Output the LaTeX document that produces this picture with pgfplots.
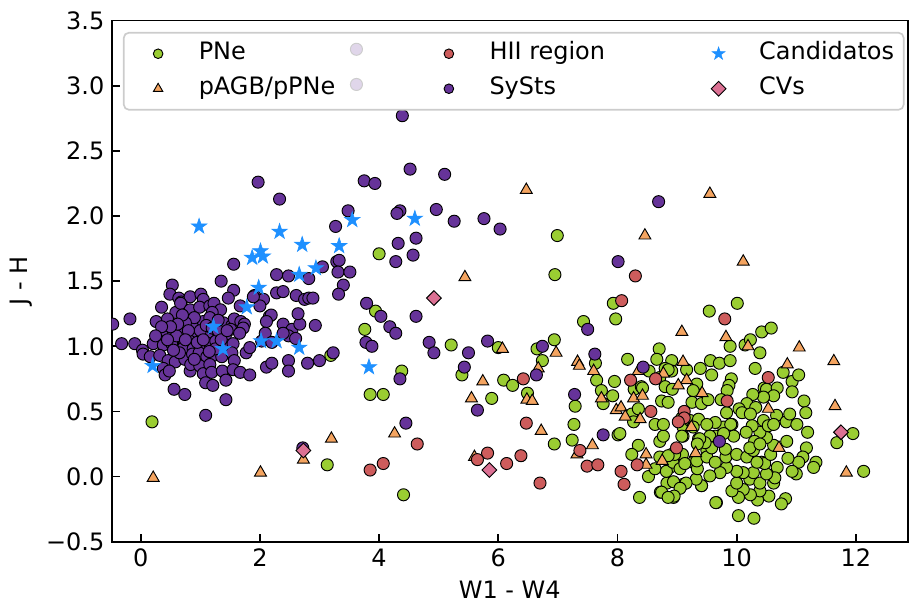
\documentclass[border=0pt]{standalone}
\usepackage{fontspec}
\setmainfont{DejaVu Sans}
\usepackage{pgfplots}
\pgfplotsset{compat=1.18}
\definecolor{cPN}{RGB}{154,205,50}
\definecolor{cAGB}{RGB}{244,164,96}
\definecolor{cHII}{RGB}{205,92,92}
\definecolor{cSy}{RGB}{102,51,153}
\definecolor{cCand}{RGB}{30,144,255}
\definecolor{cCV}{RGB}{219,112,147}
\pgfdeclareplotmark{fstar}{%
 \pgfpathmoveto{\pgfpointpolar{90}{\pgfplotmarksize}}%
 \pgfpathlineto{\pgfpointpolar{126}{0.382\pgfplotmarksize}}%
 \pgfpathlineto{\pgfpointpolar{162}{\pgfplotmarksize}}%
 \pgfpathlineto{\pgfpointpolar{198}{0.382\pgfplotmarksize}}%
 \pgfpathlineto{\pgfpointpolar{234}{\pgfplotmarksize}}%
 \pgfpathlineto{\pgfpointpolar{270}{0.382\pgfplotmarksize}}%
 \pgfpathlineto{\pgfpointpolar{306}{\pgfplotmarksize}}%
 \pgfpathlineto{\pgfpointpolar{342}{0.382\pgfplotmarksize}}%
 \pgfpathlineto{\pgfpointpolar{18}{\pgfplotmarksize}}%
 \pgfpathlineto{\pgfpointpolar{54}{0.382\pgfplotmarksize}}%
 \pgfpathclose
 \pgfusepathqfillstroke}
\pgfplotsset{
  sPN/.style={only marks, mark=*, mark size=2.9pt, mark options={fill=cPN, draw=black, line width=0.45pt, fill opacity=1, sharp corners}},
  sAGB/.style={only marks, mark=triangle*, mark size=3.3pt, mark options={fill=cAGB, draw=black, line width=0.45pt, fill opacity=1, sharp corners}},
  sHII/.style={only marks, mark=*, mark size=2.9pt, mark options={fill=cHII, draw=black, line width=0.45pt, fill opacity=1, sharp corners}},
  sSy/.style={only marks, mark=*, mark size=2.9pt, mark options={fill=cSy, draw=black, line width=0.45pt, fill opacity=1, sharp corners}},
  sCand/.style={only marks, mark=fstar, mark size=3.9pt, mark options={fill=cCand, draw=cCand, line width=0.3pt, fill opacity=1, sharp corners}},
  sCV/.style={only marks, mark=square*, mark size=2.5pt, mark options={rotate=45, fill=cCV, draw=black, line width=0.45pt, fill opacity=1, sharp corners}},
}
\begin{document}
\begin{tikzpicture}[font=\fontsize{11.5}{13.8}\selectfont]
\begin{axis}[
  name=ax,
  scale only axis, width=382.2pt, height=250.1pt,
  xmin=-0.487, xmax=12.874, ymin=-0.5, ymax=3.5,
  clip marker paths=true,
  xtick={0,2,4,6,8,10,12},
  ytick={-0.5,0,0.5,1,1.5,2,2.5,3,3.5},
  yticklabels={−0.5,0.0,0.5,1.0,1.5,2.0,2.5,3.0,3.5},
  /pgf/number format/assume math mode=true,
  tick align=inside, tick pos=left, major tick length=3.8pt,
  axis line style={line width=0.8pt},
  every tick/.style={line width=0.8pt, black},
  xlabel={W1 - W4}, ylabel={J - H},
  legend columns=3,
  legend cell align=left,
  legend image code/.code={\path (0pt,-2pt) (23pt,2pt); \draw[#1] plot[only marks] coordinates {(11.5pt,0pt)};},
  legend style={at={(0,1)}, anchor=north west, xshift=5.4pt, yshift=-5.4pt,
    draw=black!20, line width=0.8pt, rounded corners=2.5pt,
    fill=white, fill opacity=0.8, draw opacity=1, text opacity=1,
    inner xsep=4.6pt, inner ysep=4.7pt,
    column sep=7.6pt, row sep=6pt,
    nodes={inner sep=0pt, text height=8.4pt, text depth=2.4pt},
    /tikz/every even column/.append style={column sep=42.6pt}},
]
% PNe
\addplot[sPN, forget plot] coordinates {
(4.00,1.71) (6.99,1.85) (6.95,1.55) (3.94,1.27) (3.76,1.13) (3.19,0.93) (4.38,0.81) (3.85,0.63) (4.07,0.63) (0.19,0.42) (3.13,0.09) (4.41,-0.14)
(5.21,1.01) (5.39,0.78) (6.00,0.99) (5.89,0.60) (6.09,0.74) (6.24,0.70) (6.49,0.64) (6.65,0.98) (6.94,1.05) (6.74,0.89) (6.94,0.25)
(7.43,1.19) (7.93,1.33) (7.97,1.21) (7.63,0.87) (7.29,0.54) (7.27,0.40) (7.24,0.28) (7.65,0.74) (7.73,0.66) (7.92,0.62) (7.95,0.73) (7.76,0.56)
(8.17,0.90) (8.01,0.32) (8.04,0.33) (8.35,0.24) (8.24,0.17) (8.37,-0.16) (8.52,0.00) (8.63,0.06) (8.72,-0.12) (8.63,0.40) (8.74,0.58) (8.70,0.98)
(8.28,0.67) (8.40,0.69) (8.24,0.48) (8.35,0.52) (8.27,0.42) (8.66,0.90) (8.53,0.81) (8.42,0.68)
(8.91,0.89) (8.80,0.83) (8.91,0.81) (8.71,0.76) (8.80,0.69) (8.92,0.67) (8.85,0.57) (9.16,0.82) (9.39,0.83) (9.33,0.71) (9.27,0.66) (9.25,0.57)
(9.41,0.56) (9.58,0.78) (9.08,0.45) (9.10,0.31) (9.09,0.17) (8.71,0.15) (8.71,0.27) (8.91,0.17) (8.88,0.07) (8.83,-0.05) (8.94,-0.16) (8.74,-0.12)
(9.10,-0.06) (9.41,-0.07) (9.66,-0.20) (9.10,0.38) (9.22,0.43) (9.36,0.29) (9.50,0.20) (9.64,0.31) (9.27,0.11) (9.78,0.38) (9.92,0.40)
(9.54,1.27) (10.01,1.33) (10.42,1.11) (10.58,1.14) (10.14,1.01) (10.23,1.05) (9.89,1.00) (10.39,0.95) (9.56,0.89) (9.71,0.87) (9.89,0.89)
(8.85,0.82) (10.31,0.83) (10.78,0.80) (10.93,0.73) (11.04,0.78) (10.93,0.65) (9.91,0.75) (9.87,0.70) (9.84,0.66) (9.52,0.59) (9.74,0.59) (9.83,0.49)
(10.46,0.68) (10.50,0.67) (10.68,0.68) (10.62,0.62) (10.45,0.61) (10.27,0.63) (10.17,0.56) (10.32,0.53) (10.04,0.52) (10.09,0.49) (10.23,0.48)
(11.13,0.58) (11.16,0.49) (10.67,0.47) (10.83,0.42) (10.89,0.48) (11.01,0.40) (11.19,0.34) (11.17,0.22) (11.11,0.15) (11.04,0.11) (11.33,0.11)
(11.29,0.07) (11.00,0.02) (10.93,0.04) (10.84,0.27) (10.86,0.14) (10.68,0.07) (10.62,-0.05) (10.64,-0.01) (10.82,-0.17) (10.75,-0.21) (10.54,-0.15)
(10.35,-0.18) (10.39,-0.11) (10.23,-0.14) (10.11,-0.10) (10.03,-0.16) (9.92,-0.11) (10.00,-0.05) (10.03,-0.30) (10.29,-0.32) (9.65,-0.20)
(10.22,-0.02) (10.39,-0.05) (10.50,0.02) (10.28,0.03) (10.11,0.03) (10.00,0.04) (9.83,0.07) (9.72,0.03) (9.55,0.005) (9.41,-0.07) (9.32,-0.02)
(9.15,-0.05) (8.94,-0.04) (9.05,-0.09) (8.95,-0.15) (8.85,-0.16) (8.82,0.04) (8.93,0.11) (9.05,0.06) (9.13,0.10) (9.34,0.06) (9.33,0.12)
(9.50,0.15) (9.64,0.11) (9.82,0.15) (10.00,0.17) (10.17,0.15) (10.28,0.20) (10.42,0.11) (10.47,0.10) (10.34,0.11) (10.57,0.17) (10.62,0.24)
(10.50,0.30) (10.39,0.34) (10.45,0.43) (10.53,0.39) (10.62,0.40) (10.26,0.39) (10.16,0.34) (10.30,0.27) (10.22,0.22) (10.39,0.25) (9.90,0.40)
(9.95,0.31) (9.78,0.33) (9.81,0.21) (9.64,0.415) (9.55,0.31) (9.58,0.22) (9.47,0.26) (9.38,0.29) (9.34,0.25) (9.36,0.44) (9.50,0.40) (9.27,0.38)
(9.08,0.31) (8.96,0.17) (8.85,0.16) (8.77,0.31) (8.77,0.40) (11.68,0.26) (11.95,0.33) (12.13,0.04)
};
% pAGB/pPNe
\addplot[sAGB, forget plot] coordinates {
(6.47,2.20) (8.46,1.85) (5.44,1.53) (9.55,2.17) (10.11,1.65) (0.21,-0.01) (2.01,0.03) (3.20,0.29) (2.73,0.13) (4.26,0.33)
(6.07,0.98) (6.97,0.95) (7.33,0.88) (7.36,0.85) (7.60,0.81) (6.67,0.83) (5.74,0.73) (5.55,0.60) (6.48,0.59) (6.57,0.58) (6.72,0.35)
(7.73,0.60) (7.98,0.51) (8.06,0.53) (8.13,0.46) (8.38,0.44) (8.27,0.60) (8.42,0.62) (8.35,0.81) (7.58,0.24) (7.32,0.17) (5.60,0.15)
(8.48,0.17) (8.48,0.09) (8.75,0.12) (8.77,0.79) (9.08,1.11) (9.82,1.07) (10.19,1.00) (11.05,0.99) (10.85,0.86) (11.63,0.885) (9.10,0.88)
(9.16,0.74) (9.02,0.70) (9.42,0.64) (10.53,0.52) (11.65,0.54) (9.24,0.38) (9.31,0.18) (10.71,0.22) (11.84,0.03)
};
% HII regions
\addplot[sHII, forget plot] coordinates {
(8.30,1.54) (3.85,0.05) (4.07,0.10) (4.64,0.25) (6.42,0.75) (8.07,1.35) (6.47,0.41) (5.82,0.18) (5.65,0.13) (6.14,0.10) (6.38,0.16)
(6.70,-0.05) (7.37,0.20) (7.49,0.08) (7.67,0.09) (8.22,0.74) (8.64,0.75) (8.56,0.50) (8.33,0.09) (8.06,0.04) (8.11,-0.06) (9.80,1.21)
(10.53,0.76) (9.84,0.58) (9.12,0.50) (9.12,0.45) (9.02,0.42) (8.99,0.22)
};
% SySts
\addplot[sSy, forget plot] coordinates {
(3.62,3.28) (3.62,3.01) (4.39,2.77) (1.97,2.26) (2.33,2.13) (3.75,2.27) (3.93,2.25) (4.52,2.36) (5.10,2.32) (8.69,2.11) (3.48,2.04) (3.27,1.92)
(4.35,2.04) (4.30,2.02) (4.96,2.05) (5.26,1.96) (5.76,1.98) (6.03,1.90) (4.62,1.83) (4.32,1.79) (4.57,1.70) (4.28,1.65) (8.01,1.65) (1.56,1.63)
(2.28,1.55) (2.48,1.54) (2.82,1.52) (3.05,1.61) (3.29,1.65) (3.33,1.66) (3.31,1.57) (3.51,1.57) (0.53,1.47) (1.35,1.50) (3.40,1.47)
(3.32,1.40) (2.28,1.41) (2.39,1.42) (2.61,1.39) (2.75,1.36) (2.82,1.37) (2.89,1.37) (1.56,1.43) (1.47,1.37) (1.91,1.39) (2.06,1.36) (2.00,1.31)
(2.16,1.23) (2.19,1.24) (2.11,1.19) (2.39,1.17) (2.54,1.13) (2.67,1.17) (2.64,1.25) (2.93,1.16) (3.79,1.33) (4.03,1.23) (4.18,1.15) (4.28,1.10)
(3.78,1.03) (3.88,1.00) (3.23,0.95) (4.35,0.75) (4.45,0.41) (4.62,1.23) (4.84,1.03) (4.92,0.95) (5.50,0.95) (5.82,1.04) (5.43,0.84) (5.65,0.51)
(6.74,1.00) (6.64,0.78) (7.50,1.13) (7.62,0.94) (7.28,0.63) (7.76,0.32) (8.43,0.84) (9.71,0.27) (2.72,0.22) (1.09,0.47) (1.43,0.59)
(0.49,1.40) (0.64,1.37) (0.68,1.34) (0.83,1.38) (1.01,1.40) (1.05,1.36) (0.35,1.30) (0.59,1.26) (0.67,1.33) (0.83,1.28) (0.99,1.30) (1.16,1.31)
(1.23,1.33) (1.34,1.28) (1.20,1.26) (1.67,1.31) (1.89,1.38) (-0.18,1.21) (-0.47,1.17) (-0.49,1.13) (-0.32,1.02) (-0.10,1.02) (0.03,0.97) (0.04,0.94)
(0.26,1.19) (0.45,1.21) (0.30,1.08) (0.41,1.12) (0.55,1.10) (0.66,1.12) (0.86,1.10) (0.91,1.15) (1.05,1.19) (1.16,1.22) (1.39,1.18) (1.53,1.16)
(1.57,1.21) (1.68,1.19) (1.74,1.17) (1.72,1.14) (1.51,1.13) (1.66,1.10) (1.42,1.08) (1.29,1.07) (1.12,1.07) (0.95,1.09) (0.82,1.04) (0.69,1.02)
(0.54,1.04) (0.21,1.02) (0.38,1.01) (0.52,1.02) (0.72,0.99) (0.88,0.98) (1.02,1.01) (1.16,1.02) (1.26,1.04) (1.42,1.01) (1.55,1.02) (1.77,0.95)
(1.83,0.99) (2.03,1.04) (2.09,1.10) (2.20,1.03) (2.48,1.08) (0.16,0.92) (0.32,0.93) (0.46,0.89) (0.58,0.88) (0.74,0.90) (0.87,0.94) (0.98,0.95)
(1.11,0.92) (1.22,0.93) (1.36,0.92) (1.53,0.95) (1.57,0.89) (0.38,0.83) (0.41,0.78) (0.48,0.81) (0.83,0.81) (0.84,0.86) (0.99,0.85) (1.05,0.79)
(1.16,0.86) (1.19,0.80) (1.09,0.72) (1.21,0.70) (1.37,0.81) (1.55,0.82) (1.67,0.80) (1.83,0.78) (1.43,0.74) (0.56,0.67) (0.74,0.63) (2.11,0.84)
(2.20,0.87) (2.48,0.89) (2.48,0.81) (2.80,0.87) (3.00,0.89) (2.39,1.10) (2.60,1.06)
(0.90,1.22) (1.00,1.12) (1.10,1.16) (1.20,1.14) (1.30,1.12) (0.75,1.18) (0.70,1.24) (0.95,1.03) (1.05,1.05) (1.25,0.98) (1.15,0.96) (0.60,1.08)
(0.45,1.05) (1.30,1.20) (0.80,1.12) (0.62,1.17) (0.50,1.15) (0.35,1.15) (0.25,1.08) (0.75,1.05) (1.35,1.05) (1.45,1.12) (0.90,0.90) (0.65,0.95) (0.55,0.97)
};
% Candidatos
\addplot[sCand, forget plot] coordinates {
(0.98,1.92) (2.33,1.88) (2.71,1.78) (3.55,1.97) (3.33,1.77) (2.01,1.73) (1.87,1.68) (2.05,1.69) (2.94,1.60) (2.66,1.55) (1.98,1.45)
(1.78,1.30) (1.22,1.15) (1.38,0.98) (2.02,1.04) (2.28,1.04) (2.66,0.99) (0.20,0.85) (3.83,0.84) (4.60,1.98)
};
% CVs
\addplot[sCV, forget plot] coordinates {
(2.73,0.20) (4.92,1.37) (5.85,0.05) (11.75,0.34)
};
% legend (row-wise order for 3 columns)
\addlegendimage{sPN, mark size=2.3pt}
\addlegendentry{PNe}
\addlegendimage{sHII, mark size=2.3pt}
\addlegendentry{HII region}
\addlegendimage{sCand, mark size=3.2pt}
\addlegendentry{Candidatos}
\addlegendimage{sAGB, mark size=2.6pt}
\addlegendentry{pAGB/pPNe}
\addlegendimage{sSy, mark size=2.3pt}
\addlegendentry{SySts}
\addlegendimage{sCV, mark size=2.5pt}
\addlegendentry{CVs}
\end{axis}
\pgfresetboundingbox
\path[use as bounding box] ([xshift=-53.6pt,yshift=-30.9pt]ax.south west) rectangle ([xshift=0.5pt,yshift=9.9pt]ax.north east);
\end{tikzpicture}
\end{document}
